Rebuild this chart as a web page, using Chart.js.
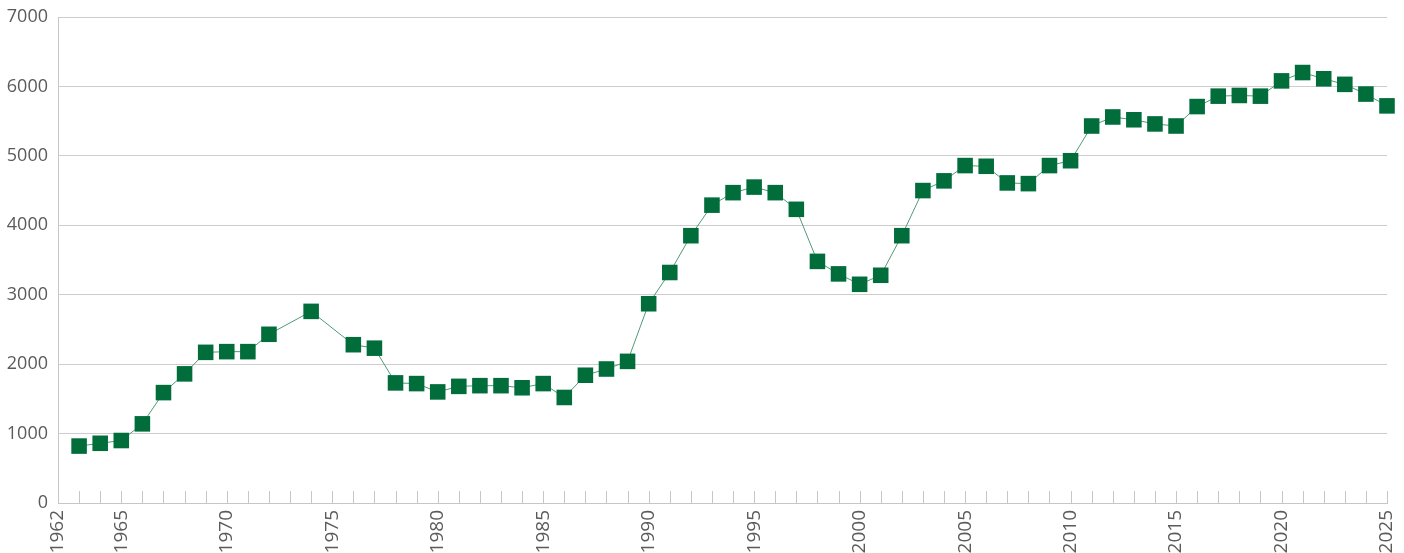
<!DOCTYPE html>
<html>
<head>
<meta charset="utf-8">
<script src="https://cdn.jsdelivr.net/npm/chart.js@4/dist/chart.umd.min.js"></script>
<style>
  html, body { margin: 0; padding: 0; background: #fff; overflow: hidden; }
  #wrap { width: 1404px; height: 553px; position: relative; }
</style>
</head>
<body>
<div id="wrap"><canvas id="chart"></canvas></div>
<script>
// Years with a value (1973 and 1975 are missing in the source)
const years = [
    1963, 1964, 1965, 1966, 1967, 1968, 1969, 1970, 1971, 1972,
    1974,
    1976, 1977, 1978, 1979, 1980, 1981, 1982, 1983, 1984, 1985,
    1986, 1987, 1988, 1989, 1990, 1991, 1992, 1993, 1994, 1995,
    1996, 1997, 1998, 1999, 2000, 2001, 2002, 2003, 2004, 2005,
    2006, 2007, 2008, 2009, 2010, 2011, 2012, 2013, 2014, 2015,
    2016, 2017, 2018, 2019, 2020, 2021, 2022, 2023, 2024, 2025
];
const values = [
    820, 860, 900, 1140, 1590, 1860, 2170, 2180, 2180, 2430,
    2760,
    2280, 2230, 1730, 1720, 1600, 1680, 1690, 1690, 1660, 1720,
    1520, 1840, 1930, 2040, 2870, 3320, 3850, 4290, 4470, 4550,
    4470, 4230, 3480, 3300, 3150, 3280, 3850, 4500, 4640, 4860,
    4850, 4610, 4600, 4860, 4930, 5430, 5560, 5520, 5460, 5430,
    5710, 5860, 5870, 5860, 6080, 6200, 6110, 6030, 5890, 5720
];
const xLabelYears = [1962, 1965, 1970, 1975, 1980, 1985, 1990, 1995, 2000, 2005, 2010, 2015, 2020, 2025];
const yTicks = [0, 1000, 2000, 3000, 4000, 5000, 6000, 7000];

const points = years.map((y, i) => ({ x: y, y: values[i] }));

// small tick marks standing up from the x axis, one per year
const innerTicks = {
    id: 'innerTicks',
    beforeDatasetsDraw(chart) {
        const xs = chart.scales.x;
        const bottom = chart.chartArea.bottom;
        const ctx = chart.ctx;
        ctx.save();
        ctx.strokeStyle = '#c6c6c6';
        ctx.lineWidth = 1;
        xs.ticks.forEach(t => {
            const px = Math.round(xs.getPixelForValue(t.value)) + 0.5;
            ctx.beginPath();
            ctx.moveTo(px, bottom);
            ctx.lineTo(px, bottom - 12);
            ctx.stroke();
        });
        ctx.restore();
    }
};

new Chart(document.getElementById('chart'), {
    type: 'line',
    data: {
        datasets: [{
            data: points,
            borderColor: '#4f9a77',
            borderWidth: 1,
            pointStyle: 'rect',
            pointRadius: 11,
            pointHoverRadius: 11,
            pointBackgroundColor: '#006d3b',
            pointBorderWidth: 0,
            tension: 0,
            clip: false
        }]
    },
    plugins: [innerTicks],
    options: {
        responsive: true,
        maintainAspectRatio: false,
        animation: false,
        layout: { padding: { top: 17, right: 17, left: 0, bottom: 0 } },
        plugins: {
            legend: { display: false },
            tooltip: { enabled: false }
        },
        scales: {
            x: {
                type: 'linear',
                min: 1962,
                max: 2025,
                afterFit(scale) {
                    scale.height = 50;
                    scale.paddingLeft = 0;
                    scale.paddingRight = 0;
                },
                afterBuildTicks(scale) {
                    const t = [];
                    for (let v = 1962; v <= 2025; v++) t.push({ value: v });
                    scale.ticks = t;
                },
                ticks: {
                    autoSkip: false,
                    maxRotation: 90,
                    minRotation: 90,
                    padding: 7,
                    color: '#5b5b5b',
                    font: { family: "'Open Sans', sans-serif", size: 19 },
                    callback: v => xLabelYears.includes(v) ? String(v) : ''
                },
                grid: { display: true, drawOnChartArea: false, drawTicks: false },
                border: { display: true, color: '#c6c6c6', width: 1 }
            },
            y: {
                min: 0,
                max: 7000,
                afterFit(scale) {
                    scale.width = 58;
                    scale.paddingTop = 0;
                    scale.paddingBottom = 0;
                },
                afterBuildTicks(scale) {
                    scale.ticks = yTicks.map(v => ({ value: v }));
                },
                ticks: {
                    padding: 10,
                    color: '#5b5b5b',
                    font: { family: "'Open Sans', sans-serif", size: 18 },
                    callback: v => String(v)
                },
                grid: { color: '#cdcdcd', lineWidth: 1, drawTicks: false },
                border: { display: true, color: '#c6c6c6', width: 1 }
            }
        }
    }
});
</script>
</body>
</html>
